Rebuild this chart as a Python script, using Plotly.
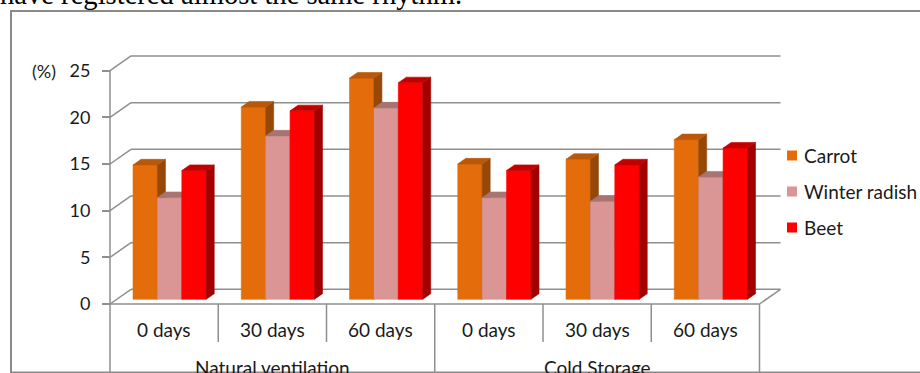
import plotly.graph_objects as go

# ---- data -------------------------------------------------------------
days = ["0 days", "30 days", "60 days", "0 days", "30 days", "60 days"]
storage = ["Natural ventilation", "Cold Storage"]
series_names = ["Carrot", "Winter radish", "Beet"]
carrot = [14.4, 20.6, 23.7, 14.5, 15.0, 17.1]
winter_radish = [10.9, 17.5, 20.5, 10.9, 10.5, 13.1]
beet = [13.8, 20.2, 23.2, 13.8, 14.4, 16.2]
y_ticks = [0, 5, 10, 15, 20, 25]
y_unit = "(%)"
caption = "have registered almost the same rhythm."

series_values = [carrot, winter_radish, beet]
# (front, top, side) shades for each series
series_colors = [
    ("#E46C0A", "#B7580A", "#974706"),
    ("#D99694", "#A87472", "#A06A69"),
    ("#FF0000", "#C20000", "#A30000"),
]

# ---- figure geometry ----------------------------------------------------
W, H = 920, 373
X0_PX, PX_PER_CAT = 110.0, 108.25      # x = 0 sits at this pixel column
Y0_PX, PX_PER_UNIT = 304.0, 9.333      # y = 0 sits at this pixel row

x_range = [-X0_PX / PX_PER_CAT, (W - X0_PX) / PX_PER_CAT]
y_range = [-(H - Y0_PX) / PX_PER_UNIT, Y0_PX / PX_PER_UNIT]

# oblique projection offsets (in data units)
DX, DY = 21 / PX_PER_CAT, 14.7 / PX_PER_UNIT       # full floor depth
FDX, FDY = 5.5 / PX_PER_CAT, 4.7 / PX_PER_UNIT     # bar front face depth
BDX, BDY = 8.0 / PX_PER_CAT, 5.6 / PX_PER_UNIT     # bar thickness in depth
BAR_W = 24.4 / PX_PER_CAT

GRID = "#8f8f8f"
TEXT = "#1a1a1a"
FONT = "Lato"
n_cat = len(days)


def paper_x(px):
    return px / W


def paper_y(py):
    return 1 - py / H


fig = go.Figure()


def face(xs, ys, color):
    fig.add_trace(go.Scatter(
        x=xs, y=ys, mode="lines", fill="toself", fillcolor=color,
        line=dict(width=0.6, color=color), hoverinfo="skip", showlegend=False,
    ))


# ---- 3D columns ------------------------------------------------------------
for i in range(n_cat):
    for s, vals in enumerate(series_values):
        v = vals[i]
        front, top, side = series_colors[s]
        x0 = i + 0.5 + FDX + (s - 1.5) * BAR_W
        x1 = x0 + BAR_W
        yb, yt = FDY, FDY + v
        face([x0, x1, x1, x0, x0], [yb, yb, yt, yt, yb], front)
        face([x1, x1 + BDX, x1 + BDX, x1, x1],
             [yb, yb + BDY, yt + BDY, yt, yb], side)
        face([x0, x1, x1 + BDX, x0 + BDX, x0],
             [yt, yt, yt + BDY, yt + BDY, yt], top)

shapes = []


def seg(x0, y0, x1, y1, width=1.5, color=GRID, layer="below"):
    shapes.append(dict(type="line", xref="x", yref="y", x0=x0, y0=y0,
                       x1=x1, y1=y1, layer=layer,
                       line=dict(color=color, width=width)))


# back wall gridlines and left wall diagonals
for t in y_ticks:
    seg(DX, t + DY, n_cat + DX, t + DY)
    seg(0, t, DX, t + DY)
# floor
seg(0, 0, n_cat, 0)
seg(n_cat, 0, n_cat + DX, DY)
# front value axis
seg(0, 0, 0, y_ticks[-1])

# category table below the floor
day_div_bottom = -38 / PX_PER_UNIT
for k in range(n_cat + 1):
    if k % 3 == 0:
        seg(k, 0, k, y_range[0] - 1, layer="above")
    else:
        seg(k, 0, k, day_div_bottom, layer="above")

# outer chart frame
shapes.append(dict(type="rect", xref="paper", yref="paper",
                   x0=paper_x(11), y0=paper_y(372.5), x1=paper_x(W + 20),
                   y1=paper_y(11), layer="below",
                   line=dict(color="#8a8a8a", width=2)))

annotations = []
for i, d in enumerate(days):
    annotations.append(dict(x=i + 0.5, y=-25 / PX_PER_UNIT, xref="x", yref="y",
                            text=d, showarrow=False, xanchor="center",
                            yanchor="middle",
                            font=dict(family=FONT, size=19, color=TEXT)))
for g, name in enumerate(storage):
    annotations.append(dict(x=g * 3 + 1.5, y=-63.3 / PX_PER_UNIT, xref="x",
                            yref="y", text=name, showarrow=False,
                            xanchor="center", yanchor="middle",
                            font=dict(family=FONT, size=19, color=TEXT)))

annotations.append(dict(x=paper_x(44), y=y_ticks[-1], xref="paper", yref="y",
                        text=y_unit, showarrow=False, xanchor="center",
                        yanchor="middle",
                        font=dict(family=FONT, size=18, color=TEXT)))

annotations.append(dict(x=paper_x(-2), y=paper_y(-5.3), xref="paper",
                        yref="paper", text=caption, showarrow=False,
                        xanchor="left", yanchor="middle",
                        font=dict(family="Liberation Serif", size=28.6,
                                  color="#000000")))

# legend
legend_rows = [155.5, 191.5, 227.5]
for name, (front, _, _), py in zip(series_names, series_colors, legend_rows):
    shapes.append(dict(type="rect", xref="paper", yref="paper",
                       x0=paper_x(787), x1=paper_x(797),
                       y0=paper_y(py + 5), y1=paper_y(py - 5),
                       fillcolor=front, line=dict(width=0)))
    annotations.append(dict(x=paper_x(802), y=paper_y(py), xref="paper",
                            yref="paper", text=name, showarrow=False,
                            xanchor="left", yanchor="middle",
                            font=dict(family=FONT, size=19, color=TEXT)))

fig.update_layout(
    width=W, height=H,
    margin=dict(l=0, r=0, t=0, b=0),
    paper_bgcolor="#ffffff", plot_bgcolor="#ffffff",
    showlegend=False,
    xaxis=dict(range=x_range, visible=False, fixedrange=True),
    yaxis=dict(range=y_range, tickvals=y_ticks,
               ticktext=[str(t) for t in y_ticks],
               ticks="outside", ticklen=8, tickwidth=1.5, tickcolor=GRID,
               showgrid=False, zeroline=False, showline=False,
               anchor="free", position=paper_x(X0_PX), side="left",
               ticklabelstandoff=8, fixedrange=True,
               tickfont=dict(family=FONT, size=18, color=TEXT)),
    shapes=shapes,
    annotations=annotations,
)

fig.write_html("out.html")
